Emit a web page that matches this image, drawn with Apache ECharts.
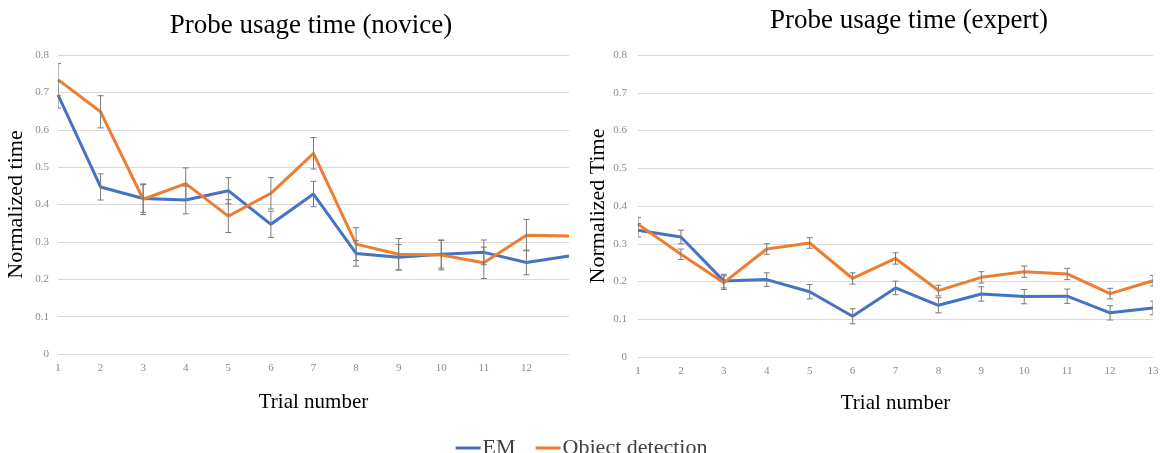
<!DOCTYPE html>
<html>
<head>
<meta charset="utf-8">
<style>
  html, body { margin: 0; padding: 0; background: #fff; }
  #chart { width: 1163px; height: 453px; }
</style>
<script src="https://cdn.jsdelivr.net/npm/echarts@6/dist/echarts.min.js"></script>
</head>
<body>
<div id="chart"></div>
<script>
// probe usage time, novice vs expert
var trialsNovice = ['1', '2', '3', '4', '5', '6', '7', '8', '9', '10', '11', '12', ''];
var trialsExpert = ['1', '2', '3', '4', '5', '6', '7', '8', '9', '10', '11', '12', '13'];

var noviceEM = [0.693, 0.447, 0.416, 0.412, 0.437, 0.347, 0.428, 0.269, 0.259, 0.267, 0.272, 0.245, 0.262];
var noviceEMErr = [0.035, 0.035, 0.037, 0.037, 0.035, 0.035, 0.034, 0.034, 0.034, 0.037, 0.033, 0.033, null];
var noviceOD = [0.734, 0.648, 0.414, 0.456, 0.369, 0.430, 0.537, 0.294, 0.267, 0.265, 0.244, 0.318, 0.316];
var noviceODErr = [0.043, 0.043, 0.041, 0.042, 0.044, 0.042, 0.042, 0.044, 0.042, 0.040, 0.042, 0.042, null];

var expertEM = [0.336, 0.318, 0.201, 0.205, 0.173, 0.108, 0.183, 0.137, 0.167, 0.160, 0.161, 0.117, 0.130];
var expertEMErr = [0.018, 0.018, 0.018, 0.018, 0.019, 0.020, 0.018, 0.020, 0.019, 0.019, 0.019, 0.019, 0.018];
var expertOD = [0.352, 0.272, 0.197, 0.286, 0.302, 0.208, 0.261, 0.176, 0.211, 0.226, 0.220, 0.168, 0.202];
var expertODErr = [0.018, 0.014, 0.018, 0.014, 0.014, 0.015, 0.015, 0.014, 0.015, 0.015, 0.015, 0.014, 0.014];

var blue = '#4472c4';
var orange = '#ed7d31';
var serif = '"Liberation Serif", "DejaVu Serif", serif';
var tickText = { color: '#8c8c8c', fontSize: 11, fontFamily: serif };
var gridLine = { lineStyle: { color: '#d9d9d9', width: 1 } };

function errData(vals, errs) {
  var out = [];
  vals.forEach(function (v, i) {
    if (errs[i] != null) out.push([i, v, errs[i]]);
  });
  return out;
}

function renderErr(params, api) {
  var x = api.value(0), v = api.value(1), e = api.value(2);
  var top = api.coord([x, v + e]);
  var bot = api.coord([x, v - e]);
  var hw = 3;
  var st = { stroke: '#7a7a7a', lineWidth: 1 };
  return {
    type: 'group',
    children: [
      { type: 'line', shape: { x1: top[0], y1: top[1], x2: bot[0], y2: bot[1] }, style: st },
      { type: 'line', shape: { x1: top[0] - hw, y1: top[1], x2: top[0] + hw, y2: top[1] }, style: st },
      { type: 'line', shape: { x1: bot[0] - hw, y1: bot[1], x2: bot[0] + hw, y2: bot[1] }, style: st }
    ]
  };
}

function xAxisFor(idx, cats, gap) {
  return {
    type: 'category', gridIndex: idx, data: cats, boundaryGap: false,
    name: 'Trial number', nameLocation: 'middle', nameGap: gap,
    nameTextStyle: { color: '#000', fontSize: 21, fontFamily: serif },
    axisLine: { show: false }, axisTick: { show: false },
    axisLabel: Object.assign({ margin: 9, interval: 0 }, tickText)
  };
}

function yAxisFor(idx, name, gap, margin) {
  return {
    type: 'value', gridIndex: idx, min: 0, max: 0.8, interval: 0.1,
    name: name, nameLocation: 'middle', nameGap: gap,
    nameTextStyle: { color: '#000', fontSize: 22, fontFamily: serif },
    axisLine: { show: false }, axisTick: { show: false },
    axisLabel: Object.assign({ margin: margin, formatter: function (v) { return String(+v.toFixed(1)); } }, tickText),
    splitLine: gridLine
  };
}

var chart = echarts.init(document.getElementById('chart'), null, { renderer: 'canvas' });
chart.setOption({
  animation: false,
  backgroundColor: '#fff',
  title: [
    { text: 'Probe usage time (novice)', left: 306, top: 7, textAlign: 'center',
      textStyle: { color: '#000', fontSize: 27, fontWeight: 'normal', fontFamily: serif } },
    { text: 'Probe usage time (expert)', left: 904, top: 2, textAlign: 'center',
      textStyle: { color: '#000', fontSize: 27, fontWeight: 'normal', fontFamily: serif } }
  ],
  legend: {
    data: ['EM', 'Object detection'],
    bottom: -11, left: 'center',
    icon: 'rect', itemWidth: 25, itemHeight: 3, itemGap: 20,
    textStyle: { color: '#404040', fontSize: 22, fontFamily: serif, padding: [0, 0, 0, -3] }
  },
  grid: [
    { left: 58, top: 55, width: 511, height: 299, outerBoundsMode: 'none' },
    { left: 638, top: 55, width: 515, height: 302, outerBoundsMode: 'none' }
  ],
  xAxis: [xAxisFor(0, trialsNovice, 38), xAxisFor(1, trialsExpert, 36)],
  yAxis: [yAxisFor(0, 'Normalized time', 31, 9), yAxisFor(1, 'Normalized Time', 29, 11)],
  series: [
    { name: 'EM', type: 'line', xAxisIndex: 0, yAxisIndex: 0, data: noviceEM, symbol: 'none',
      lineStyle: { color: blue, width: 3 }, itemStyle: { color: blue }, z: 2 },
    { name: 'Object detection', type: 'line', xAxisIndex: 0, yAxisIndex: 0, data: noviceOD, symbol: 'none',
      lineStyle: { color: orange, width: 3 }, itemStyle: { color: orange }, z: 3 },
    { name: 'EM', type: 'line', xAxisIndex: 1, yAxisIndex: 1, data: expertEM, symbol: 'none',
      lineStyle: { color: blue, width: 3 }, itemStyle: { color: blue }, z: 2 },
    { name: 'Object detection', type: 'line', xAxisIndex: 1, yAxisIndex: 1, data: expertOD, symbol: 'none',
      lineStyle: { color: orange, width: 3 }, itemStyle: { color: orange }, z: 3 },
    { name: 'err-nov-em', type: 'custom', xAxisIndex: 0, yAxisIndex: 0, data: errData(noviceEM, noviceEMErr),
      renderItem: renderErr, encode: { x: 0, y: 1 }, clip: true, z: 5, silent: true },
    { name: 'err-nov-od', type: 'custom', xAxisIndex: 0, yAxisIndex: 0, data: errData(noviceOD, noviceODErr),
      renderItem: renderErr, encode: { x: 0, y: 1 }, clip: true, z: 5, silent: true },
    { name: 'err-exp-em', type: 'custom', xAxisIndex: 1, yAxisIndex: 1, data: errData(expertEM, expertEMErr),
      renderItem: renderErr, encode: { x: 0, y: 1 }, clip: true, z: 5, silent: true },
    { name: 'err-exp-od', type: 'custom', xAxisIndex: 1, yAxisIndex: 1, data: errData(expertOD, expertODErr),
      renderItem: renderErr, encode: { x: 0, y: 1 }, clip: true, z: 5, silent: true }
  ]
});
window.addEventListener('resize', function () { chart.resize(); });
</script>
</body>
</html>
